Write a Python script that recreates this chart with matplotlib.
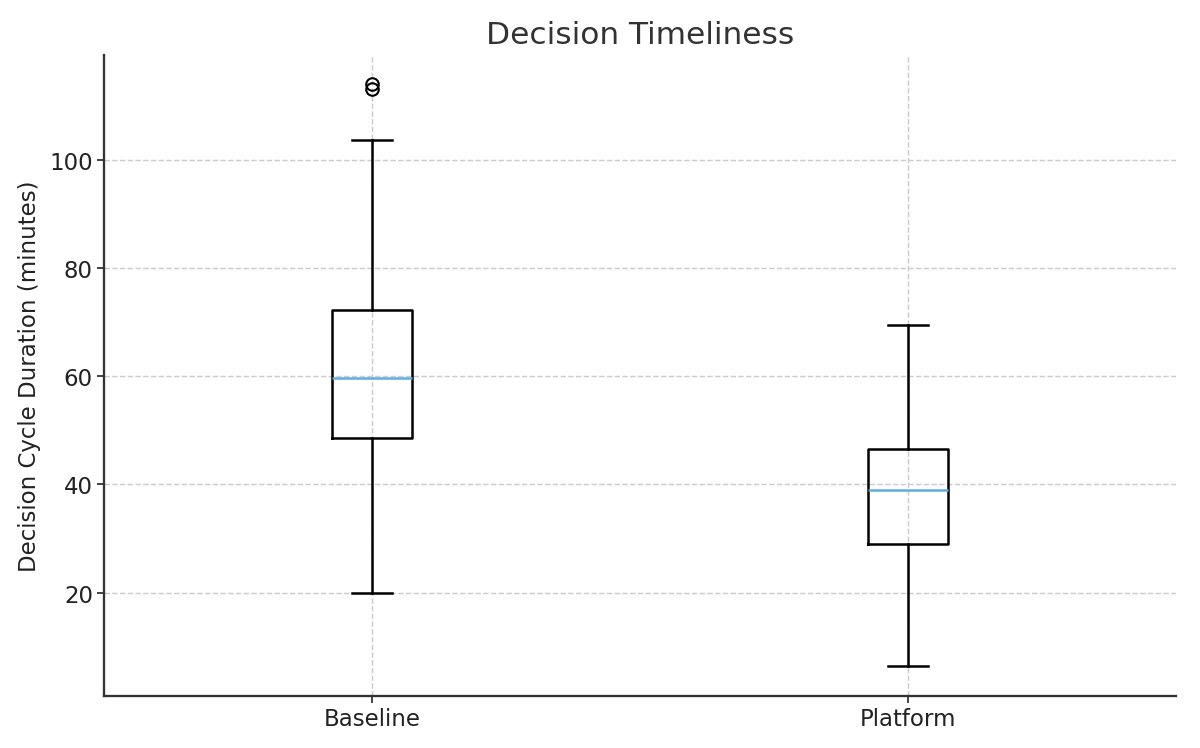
import matplotlib
matplotlib.use("Agg")
import matplotlib.pyplot as plt

# Box statistics
groups = ["Baseline", "Platform"]
whislo = [20.0, 6.5]
q1 = [48.6, 29.0]
med = [59.7, 39.0]
q3 = [72.2, 46.6]
whishi = [103.7, 69.4]
fliers = [[113.9, 113.1], []]

stats = []
for i, name in enumerate(groups):
    stats.append({
        "label": name,
        "whislo": whislo[i],
        "q1": q1[i],
        "med": med[i],
        "q3": q3[i],
        "whishi": whishi[i],
        "fliers": fliers[i],
    })

fig, ax = plt.subplots(figsize=(8, 4.993), dpi=150)

ax.bxp(stats, positions=[1, 2], widths=0.15,
       boxprops=dict(color="black", linewidth=1.2),
       whiskerprops=dict(color="black", linewidth=1.2),
       capprops=dict(color="black", linewidth=1.2),
       medianprops=dict(color="#5dade2", linewidth=1.2),
       flierprops=dict(marker="o", markerfacecolor="none",
                       markeredgecolor="black", markersize=6))

ax.set_xlim(0.5, 2.5)
ax.set_ylim(1.0, 119.3)
ax.set_yticks([20, 40, 60, 80, 100])

ax.set_title("Decision Timeliness", fontsize=15, color="#333333")
ax.set_ylabel("Decision Cycle Duration (minutes)", fontsize=11, color="#222222")
ax.tick_params(labelsize=11, colors="#222222", pad=2)

ax.grid(True, linestyle="--", color="#cccccc", linewidth=0.7)
ax.set_axisbelow(True)
for side in ["top", "right"]:
    ax.spines[side].set_visible(False)
for side in ["left", "bottom"]:
    ax.spines[side].set_color("#333333")
    ax.spines[side].set_linewidth(1.1)

plt.subplots_adjust(left=0.087, right=0.98, bottom=0.07, top=0.925)
plt.savefig("out.png", dpi=150)
